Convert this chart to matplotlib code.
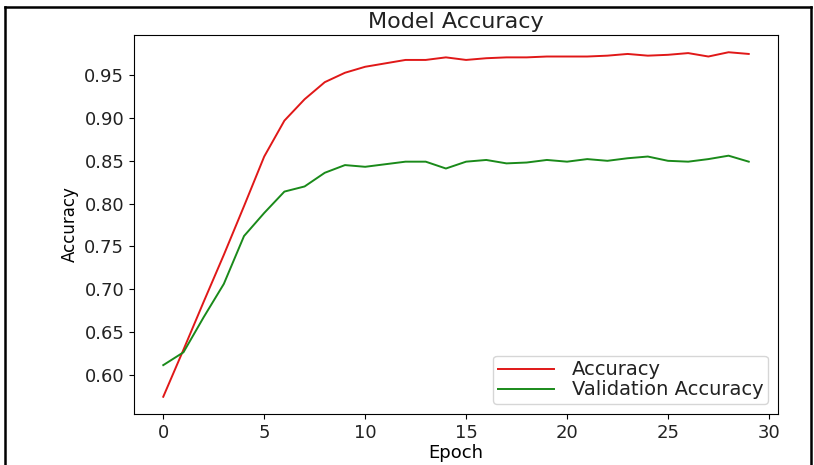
import numpy as np
import matplotlib
matplotlib.use("Agg")
import matplotlib.pyplot as plt
from matplotlib.lines import Line2D

# per-epoch training history
epochs = np.arange(30)
accuracy = [0.574, 0.629, 0.685, 0.740, 0.797, 0.855, 0.897, 0.922, 0.942, 0.953,
            0.960, 0.964, 0.968, 0.968, 0.971, 0.968, 0.970, 0.971, 0.971, 0.972,
            0.972, 0.972, 0.973, 0.975, 0.973, 0.974, 0.976, 0.972, 0.977, 0.975]
val_accuracy = [0.611, 0.626, 0.667, 0.706, 0.762, 0.789, 0.814, 0.820, 0.836, 0.845,
                0.843, 0.846, 0.849, 0.849, 0.841, 0.849, 0.851, 0.847, 0.848, 0.851,
                0.849, 0.852, 0.850, 0.853, 0.855, 0.850, 0.849, 0.852, 0.856, 0.849]

plt.rcParams['text.color'] = '#222222'
plt.rcParams['xtick.labelcolor'] = '#222222'
plt.rcParams['ytick.labelcolor'] = '#222222'

fig = plt.figure(figsize=(8.14, 4.65), dpi=100)
ax = fig.add_axes([0.1646, 0.1097, 0.7912, 0.815])

ax.plot(epochs, accuracy, color='#e01818', lw=1.4, label='Accuracy')
ax.plot(epochs, val_accuracy, color='#1a8a1a', lw=1.4, label='Validation Accuracy')

ax.set_title('Model Accuracy', fontsize=16, pad=5)
ax.set_xlabel('Epoch', fontsize=13, labelpad=2)
ax.set_ylabel('Accuracy', fontsize=12)
ax.tick_params(labelsize=13)
ax.set_xticks([0, 5, 10, 15, 20, 25, 30])
ax.legend(loc='lower right', fontsize=14, handlelength=2.9,
          labelspacing=0.05, borderpad=0.25, handletextpad=0.9)

# black frame around the figure
for xs, ys in [([0.006, 0.006], [0.0, 0.985]),
               ([0.006, 0.996], [0.985, 0.985]),
               ([0.996, 0.996], [0.0, 0.985])]:
    fig.add_artist(Line2D(xs, ys, transform=fig.transFigure, color='black', lw=1.8))

fig.savefig('out.png', dpi=100)
